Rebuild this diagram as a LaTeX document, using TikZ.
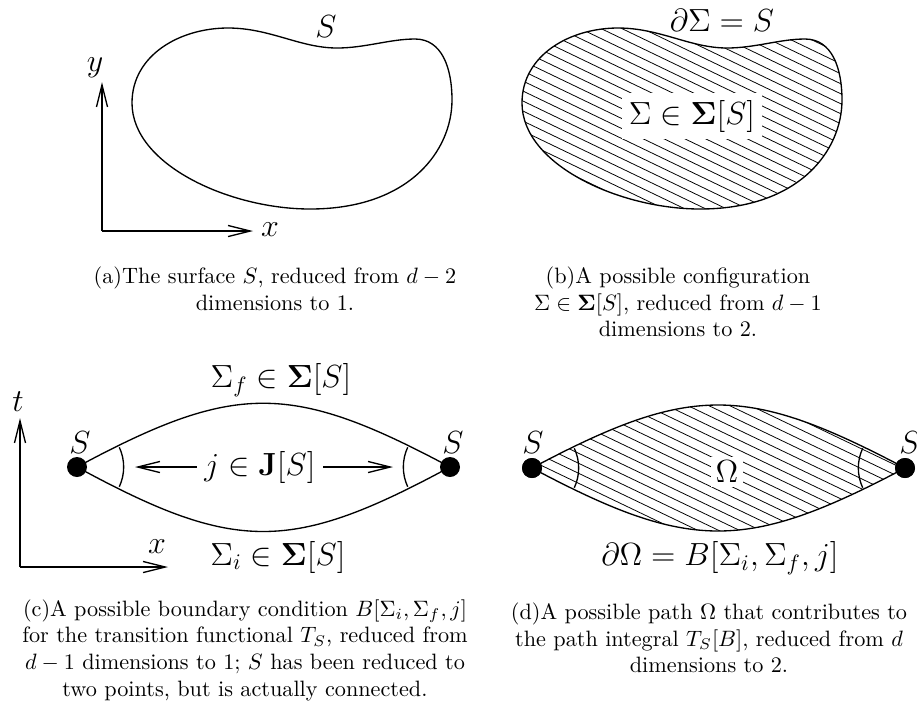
\documentclass[tikz,border=0pt]{standalone}
\usepackage{amsmath,amssymb}
\usetikzlibrary{arrows.meta}
\tikzset{
  axis/.style={semithick,-{Straight Barb[length=10pt,width=5pt]}},
  curve/.style={semithick},
  dot/.style={circle,fill=black,inner sep=0pt,minimum size=9pt},
  hatch/.style={line width=0.35pt},
  lbl/.style={font=\Large},
  subcap/.style={align=center,font=\normalsize}
}
\newcommand{\kidney}{(522,103) .. controls (522,55) and (570,28) .. (618,28)
  .. controls (660,28) and (690,48) .. (727,48)
  .. controls (755,48) and (780,39) .. (805,39)
  .. controls (832,39) and (842,68) .. (842,100)
  .. controls (842,150) and (800,209) .. (700,209)
  .. controls (620,209) and (522,165) .. (522,103) -- cycle}
\begin{document}
\begin{tikzpicture}[x=0.45pt,y=-0.45pt]
\useasboundingbox (0,0) rectangle (917,703);
% (a) the surface
\coordinate (ao) at (102,231);
\coordinate (ay) at (102,82);
\coordinate (ax) at (253,231);
\draw[axis] (ao) -- (ay);
\draw[axis] (ao) -- (ax);
\node[lbl] (ylab) at (95,68) {$y$};
\node[lbl] (xlab) at (270,230) {$x$};
\begin{scope}[shift={(-390,0)}]
\draw[curve] \kidney;
\end{scope}
\node[lbl] (sa) at (326,27) {$S$};
\node[subcap] (capa) at (275,289) {(a)The surface $S$, reduced from $d-2$\\dimensions to 1.};
% (b) a configuration
\begin{scope}
\clip \kidney;
\foreach \k in {-16,...,22}
  \draw[hatch] (500,\k*10) -- (860,\k*10+173);
\end{scope}
\draw[curve] \kidney;
\node[lbl,fill=white,inner sep=3pt] (sig) at (692,116) {$\Sigma\in\mathbf{\Sigma}[S]$};
\node[lbl] (bdry) at (722,20) {$\partial\Sigma=S$};
\node[subcap] (capb) at (678,302) {(b)A possible configuration\\$\Sigma\in\mathbf{\Sigma}[S]$, reduced from $d-1$\\dimensions to 2.};
% (c) boundary condition
\coordinate (co) at (20,567);
\coordinate (ct) at (20,418);
\coordinate (cx) at (168,567);
\draw[axis] (co) -- (ct);
\draw[axis] (co) -- (cx);
\node[lbl] (tlab) at (18,402) {$t$};
\node[lbl] (xlab2) at (157,547) {$x$};
\node[dot] (dl) at (77,467) {};
\node[dot] (dr) at (450,467) {};
\draw[curve] (dl.center) .. controls (235,382) and (291,382) .. (dr.center);
\draw[curve] (dl.center) .. controls (235,553) and (291,553) .. (dr.center);
\draw[curve] (dl.center) ++(-25:21pt) arc[start angle=-25,end angle=25,radius=21pt];
\draw[curve] (dr.center) ++(155:21pt) arc[start angle=155,end angle=205,radius=21pt];
\node[lbl] (sl) at (80,443) {$S$};
\node[lbl] (sr) at (453,443) {$S$};
\node[lbl] (sf) at (281,380) {$\Sigma_f\in\mathbf{\Sigma}[S]$};
\node[lbl] (si) at (278,557) {$\Sigma_i\in\mathbf{\Sigma}[S]$};
\node[lbl] (jlab) at (260,467) {$j\in\mathbf{J}[S]$};
\coordinate (jl) at (135,467);
\coordinate (jr) at (393,467);
\draw[axis] (jlab) -- (jl);
\draw[axis] (jlab) -- (jr);
\node[subcap] (capc) at (245,650) {(c)A possible boundary condition $B[\Sigma_i,\Sigma_f,j]$\\for the transition functional $T_S$, reduced from\\$d-1$ dimensions to 1; $S$ has been reduced to\\two points, but is actually connected.};
% (d) a path
\node[dot] (pl) at (532,468) {};
\node[dot] (pr) at (905,468) {};
\begin{scope}
\clip (pl.center) .. controls (690,384) and (746,384) .. (pr.center)
  .. controls (746,552) and (690,552) .. (pl.center);
\foreach \k in {21,...,54}
  \draw[hatch] (530,\k*10) -- (910,\k*10+182);
\end{scope}
\draw[curve] (pl.center) .. controls (690,384) and (746,384) .. (pr.center);
\draw[curve] (pl.center) .. controls (690,552) and (746,552) .. (pr.center);
\draw[curve] (pl.center) ++(-25:21pt) arc[start angle=-25,end angle=25,radius=21pt];
\draw[curve] (pr.center) ++(155:21pt) arc[start angle=155,end angle=205,radius=21pt];
\node[dot] (pl2) at (pl) {};
\node[dot] (pr2) at (pr) {};
\node[lbl,fill=white,inner sep=2pt] (om) at (727,472) {$\Omega$};
\node[lbl] (spl) at (533,443) {$S$};
\node[lbl] (spr) at (910,443) {$S$};
\node[lbl] (bom) at (720,558) {$\partial\Omega=B[\Sigma_i,\Sigma_f,j]$};
\node[subcap] (capd) at (709,638) {(d)A possible path $\Omega$ that contributes to\\the path integral $T_S[B]$, reduced from $d$\\dimensions to 2.};
\end{tikzpicture}
\end{document}
